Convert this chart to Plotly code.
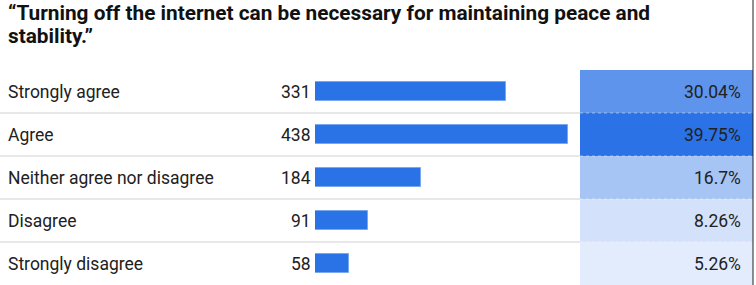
import plotly.graph_objects as go

title_lines = ["“Turning off the internet can be necessary for maintaining peace and", "stability.”"]
categories = ["Strongly agree", "Agree", "Neither agree nor disagree", "Disagree", "Strongly disagree"]
counts = [331, 438, 184, 91, 58]
percents = [30.04, 39.75, 16.7, 8.26, 5.26]

W, H = 756, 285
row_top = 70
FONT = "Roboto"
TXT = "#212121"
LBL = 17.5

fig = go.Figure()

# count bars
fig.add_trace(go.Bar(
    x=counts, y=categories, orientation="h", xaxis="x", yaxis="y",
    width=0.42, marker=dict(color="#2a73e6", line=dict(color="#7aa8f0", width=1)),
    hoverinfo="skip", showlegend=False,
))

# percent cells (heat-coloured)
fig.add_trace(go.Bar(
    x=[1] * len(categories), y=categories, orientation="h", xaxis="x2", yaxis="y",
    width=1.0,
    marker=dict(color=percents, colorscale=[[0, "#ffffff"], [1, "#2a72e5"]],
                cmin=0, cmax=max(percents), line=dict(width=0)),
    hoverinfo="skip", showlegend=False,
))

annotations = []
for k, line in enumerate(title_lines):
    annotations.append(dict(
        text="<b>" + line + "</b>", xref="paper", yref="paper",
        x=6 / W, y=1 - (12.5 + 23.5 * k) / H, xanchor="left", yanchor="middle", align="left",
        showarrow=False, font=dict(family=FONT, size=20.8, color="#111111"),
    ))
for cat, c, p in zip(categories, counts, percents):
    annotations.append(dict(text=cat, xref="paper", yref="y", x=6 / W, y=cat,
                            xanchor="left", yanchor="middle", showarrow=False,
                            font=dict(family=FONT, size=LBL, color=TXT)))
    annotations.append(dict(text=str(c), xref="x", yref="y", x=0, y=cat, xshift=-2,
                            xanchor="right", yanchor="middle", showarrow=False,
                            font=dict(family=FONT, size=LBL, color=TXT)))
    annotations.append(dict(text=f"{p:g}%", xref="x2", yref="y", x=1, y=cat, xshift=-10,
                            xanchor="right", yanchor="middle", showarrow=False,
                            font=dict(family=FONT, size=LBL, color=TXT)))

shapes = []
for i in range(len(categories) - 1):
    yv = i + 0.5
    shapes.append(dict(type="line", xref="paper", yref="y", x0=0, x1=580 / W, y0=yv, y1=yv,
                       line=dict(color="#d0d0d0", width=1)))
    shapes.append(dict(type="line", xref="paper", yref="y", x0=580 / W, x1=753 / W, y0=yv, y1=yv,
                       line=dict(color="rgba(255,255,255,0.45)", width=1, dash="dot")))
shapes.append(dict(type="line", xref="paper", yref="paper", x0=753 / W, x1=753 / W, y0=0, y1=1,
                   line=dict(color="#222222", width=1)))

fig.update_layout(
    width=W, height=H, margin=dict(l=0, r=0, t=0, b=0),
    paper_bgcolor="white", plot_bgcolor="white",
    barmode="overlay", bargap=0,
    font=dict(family=FONT),
    xaxis=dict(domain=[315 / W, 568 / W], range=[0, max(counts)], visible=False, fixedrange=True),
    xaxis2=dict(domain=[580 / W, 753 / W], range=[0, 1], visible=False, anchor="y", fixedrange=True),
    yaxis=dict(domain=[0, (H - row_top) / H], type="category", categoryorder="array",
               categoryarray=categories, range=[len(categories) - 0.5, -0.5], visible=False,
               fixedrange=True),
    annotations=annotations, shapes=shapes,
)

fig.write_html("out.html")
